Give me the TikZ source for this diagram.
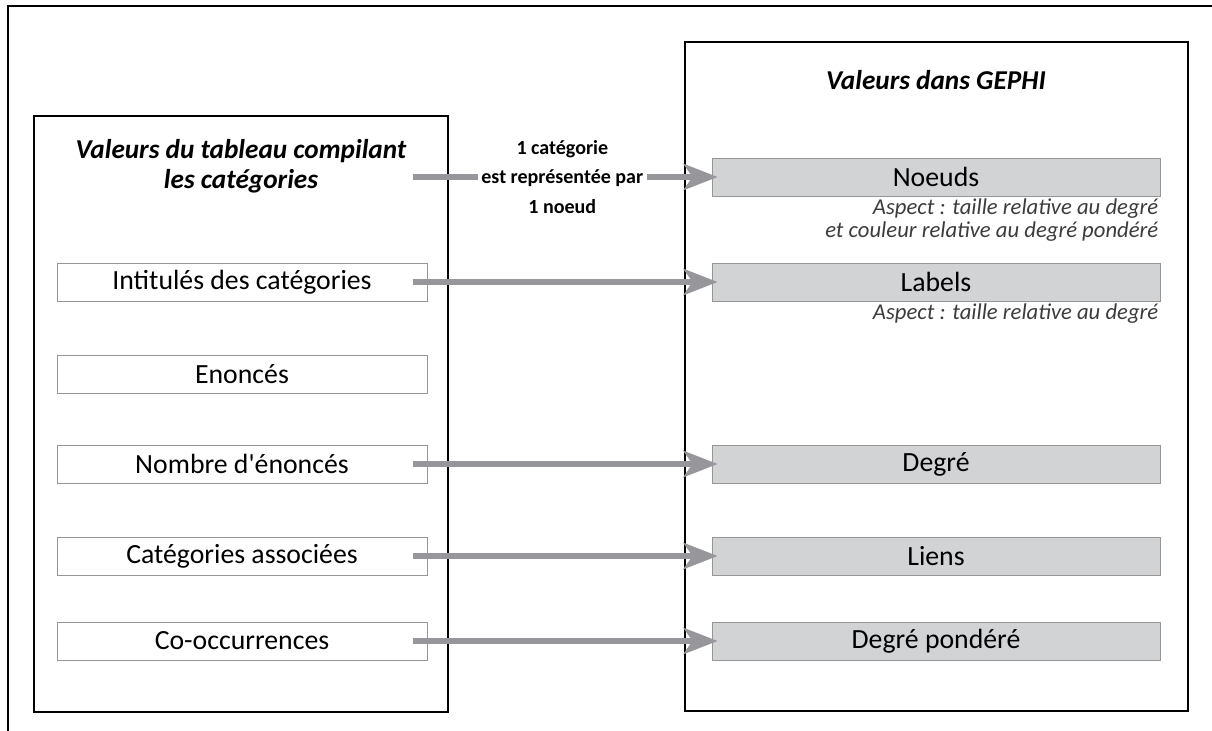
\documentclass[tikz,border=0pt]{standalone}
\usepackage{fontspec}
\setmainfont{Carlito}
\usetikzlibrary{arrows.meta,positioning}
\definecolor{arrowgray}{RGB}{150,150,155}
\definecolor{boxgray}{RGB}{210,211,213}
\definecolor{edgegray}{RGB}{150,150,150}
\definecolor{notegray}{RGB}{60,60,60}
\tikzset{
  srcbox/.style={draw=edgegray,fill=white,minimum width=74mm,minimum height=7.6mm,inner sep=0pt,font=\fontsize{15.8}{18}\selectfont},
  gephibox/.style={draw=edgegray,fill=boxgray,minimum width=89.6mm,minimum height=7.6mm,inner sep=0pt,font=\fontsize{15.8}{18}\selectfont},
  flow/.style={draw=arrowgray,line width=1.3mm,shorten >=-1.2mm,-{Stealth[length=6.8mm,width=5.2mm,inset=1.8mm]}},
  note/.style={anchor=north east,align=right,inner sep=1pt,text=notegray,font=\fontsize{12.9}{13.2}\selectfont\itshape},
  heading/.style={align=center,font=\fontsize{15.5}{17}\selectfont\bfseries\itshape}
}
\begin{document}
\begin{tikzpicture}[>=Latex,x=0.2mm,y=-0.2mm]
\useasboundingbox (0,0) rectangle (1212,731);
\draw[line width=0.45mm] (8,731) |- (1212,6);
\draw[line width=0.3mm] (34,116) rectangle (448,712);
\draw[line width=0.45mm] (685,42) rectangle (1188,711);
\node[heading] (ltitle) at (241,166) {Valeurs du tableau compilant\\les catégories};
\node[heading] (rtitle) at (936,80) {Valeurs dans GEPHI};
% left column
\node[srcbox] (intit) at (242,282) {Intitulés des catégories};
\node[srcbox] (enon) at (242,374) {Enoncés};
\node[srcbox] (nbenon) at (242,464) {Nombre d\textquotesingle énoncés};
\node[srcbox] (catasso) at (242,556) {Catégories associées};
\node[srcbox] (cooc) at (242,641) {Co-occurrences};
% right column
\node[gephibox] (noeuds) at (936,177) {Noeuds};
\node[gephibox] (labels) at (936,282) {Labels};
\node[gephibox] (degre) at (936,464) {Degré};
\node[gephibox] (liens) at (936,556) {Liens};
\node[gephibox] (degpond) at (936,641) {Degré pondéré};
\node[note] (noeudsnote) at (noeuds.south east) {Aspect : taille relative au degré\\et couleur relative au degré pondéré};
\node[note] (labelsnote) at (labels.south east) {Aspect : taille relative au degré};
% arrows
\coordinate (catsrc) at (413,177);
\draw[flow] (catsrc) -- (noeuds.west) node[midway,fill=white,inner sep=2pt,align=center,text=black,font=\fontsize{11.4}{17}\selectfont\bfseries] (catlbl) {1 catégorie\\est représentée par\\1 noeud};
\draw[flow] ([xshift=-2.8mm]intit.east) -- (labels.west);
\draw[flow] ([xshift=-2.8mm]nbenon.east) -- (degre.west);
\draw[flow] ([xshift=-2.8mm]catasso.east) -- (liens.west);
\draw[flow] ([xshift=-2.8mm]cooc.east) -- (degpond.west);
\end{tikzpicture}
\end{document}
